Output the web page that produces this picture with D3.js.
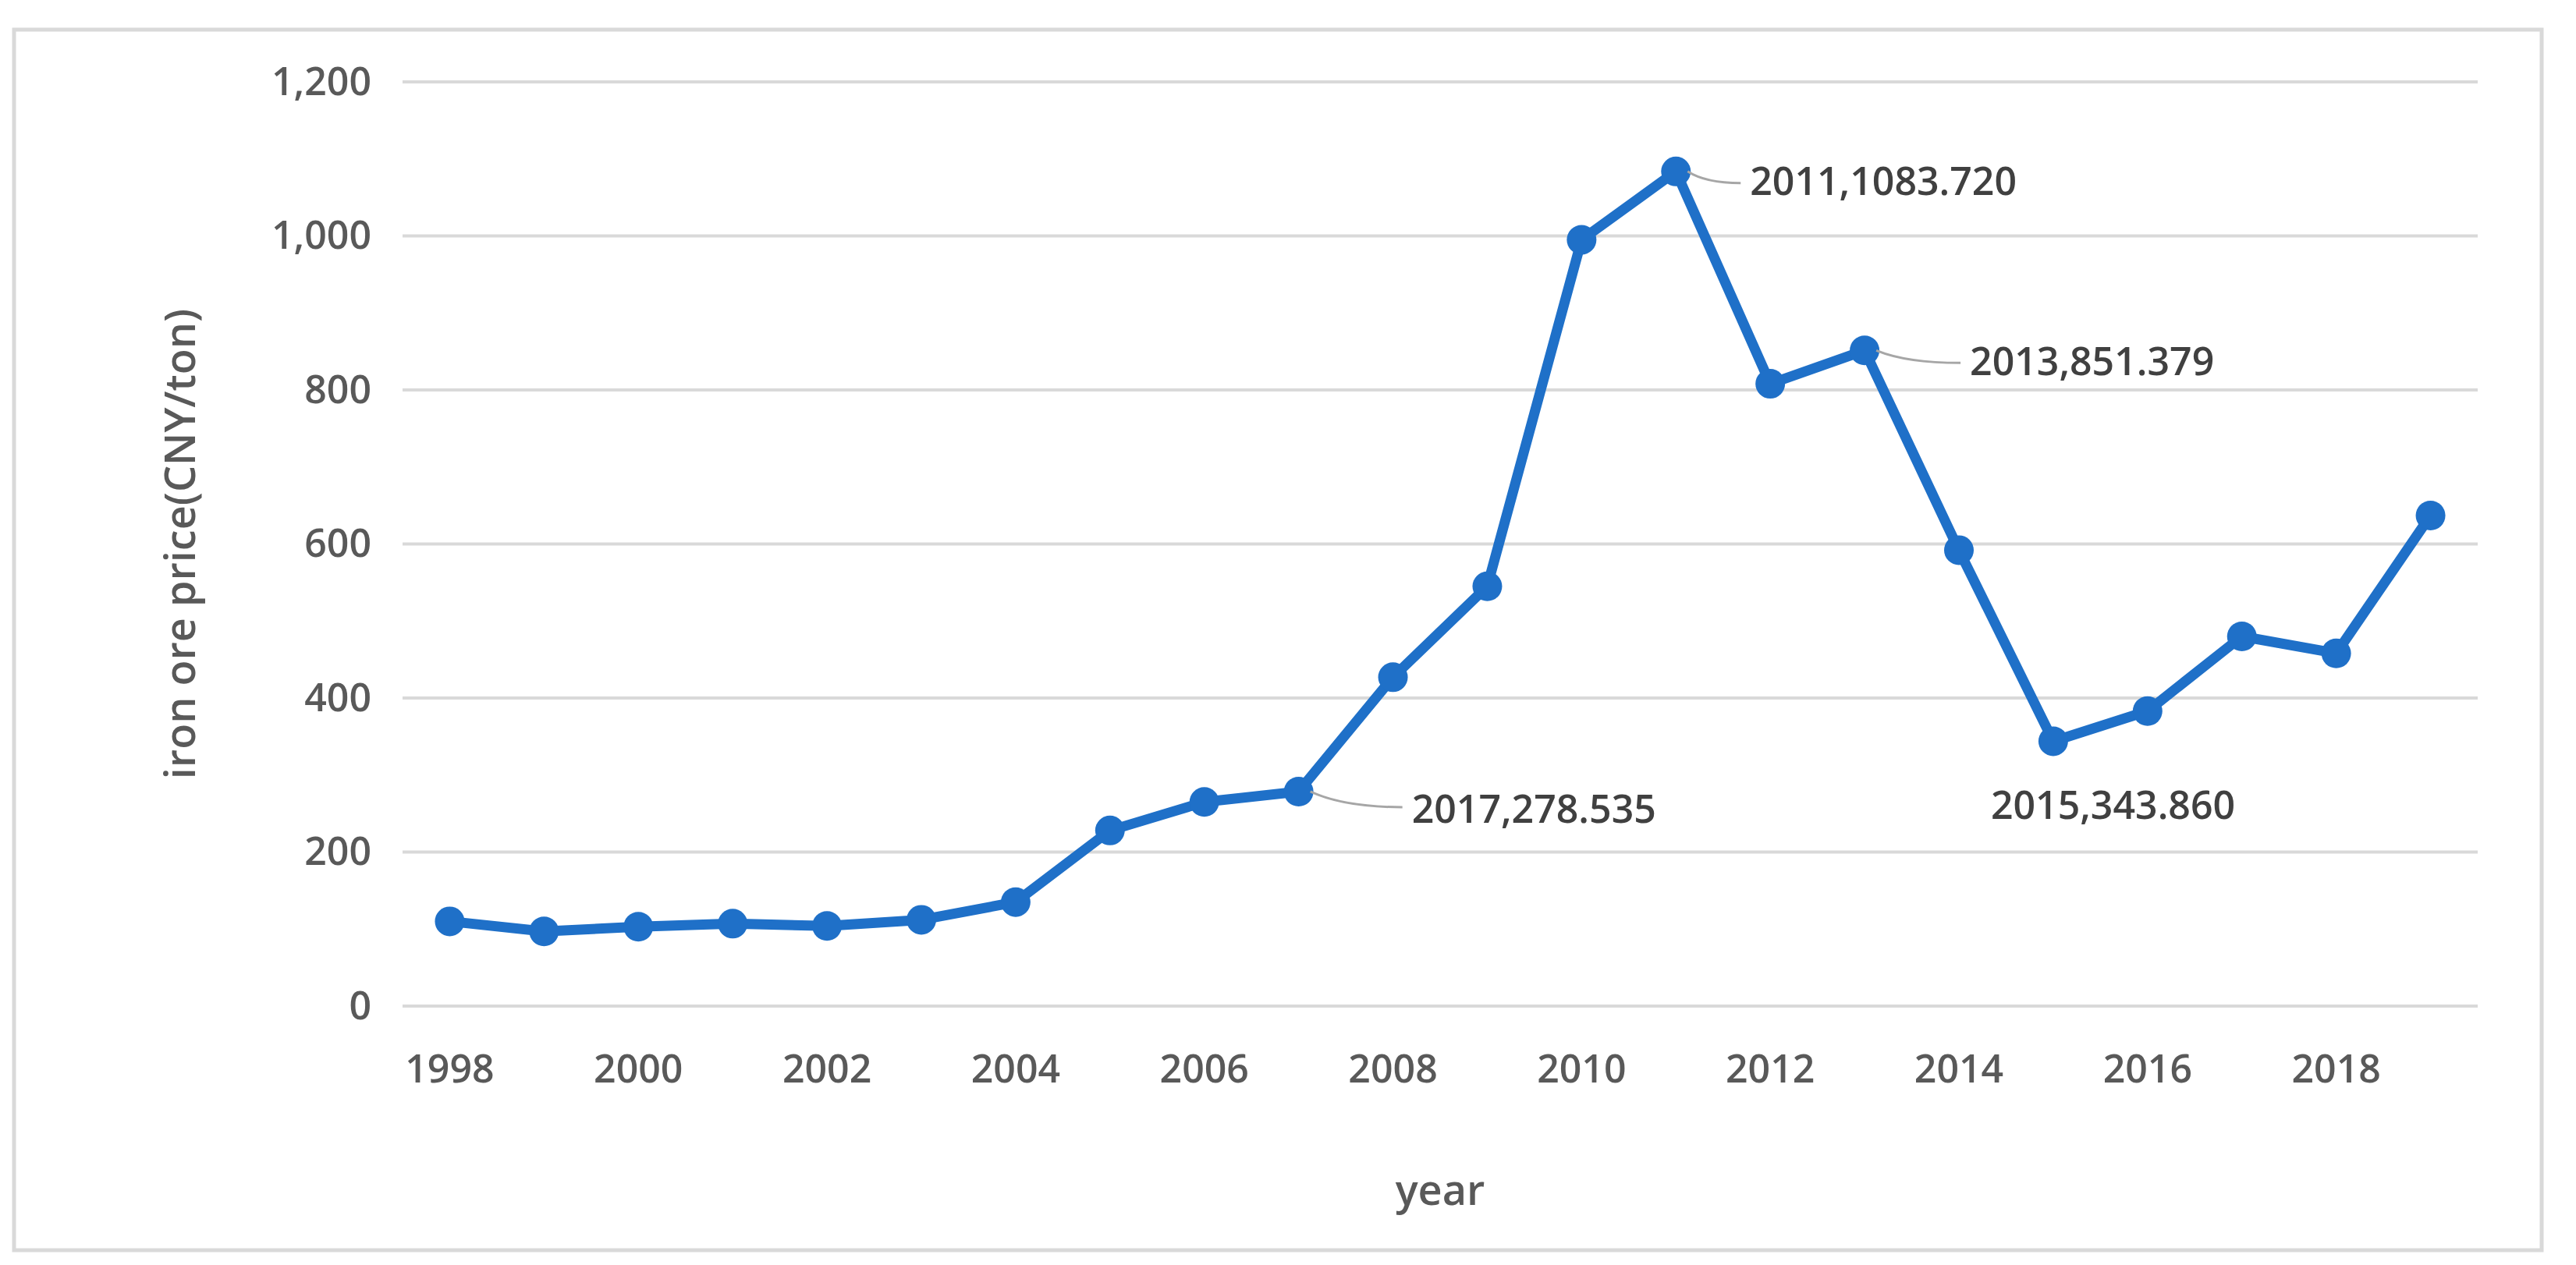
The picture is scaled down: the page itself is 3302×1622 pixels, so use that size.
<!DOCTYPE html>
<html>
<head>
<meta charset="utf-8">
<script src="https://cdn.jsdelivr.net/npm/d3@7"></script>
<style>
body{margin:0;background:#fff;}
text{font-family:"Open Sans","Noto Sans",sans-serif;}
</style>
</head>
<body>
<svg id="chart" width="3302" height="1622"></svg>
<script>
'use strict';
// data
var years=[1998,1999,2000,2001,2002,2003,2004,2005,2006,2007,2008,2009,2010,2011,2012,2013,2014,2015,2016,2017,2018,2019];
var prices=[110,97,103,107,104,112,135,228,265,278.535,427,545,995,1083.72,808,851.379,592,343.86,383,480,458,637];
var yTicks=[0,200,400,600,800,1000,1200];
var xTickYears=[1998,2000,2002,2004,2006,2008,2010,2012,2014,2016,2018];
var callouts=[
	{year:2011,text:"2011,1083.720",dx:95,dy:30,leader:true},
	{year:2013,text:"2013,851.379",dx:135,dy:32,leader:true},
	{year:2007,text:"2017,278.535",dx:145,dy:40,leader:true},
	{year:2015,text:"2015,343.860",dx:-80,dy:100,leader:false}
];

var svg=d3.select("#chart");
var plotLeft=516,plotRight=3176,plotTop=105,plotBottom=1290;

// outer frame
svg.append("rect").attr("x",18).attr("y",38).attr("width",3240).attr("height",1565)
	.attr("fill","#fff").attr("stroke","#d9d9d9").attr("stroke-width",5);

var x=d3.scaleBand().domain(years).range([plotLeft,plotRight]);
var y=d3.scaleLinear().domain([0,1200]).range([plotBottom,plotTop]);
var cx=function(d){return x(d)+x.bandwidth()/2;};

// gridlines
svg.append("g").selectAll("line").data(yTicks).join("line")
	.attr("x1",plotLeft).attr("x2",plotRight)
	.attr("y1",function(d){return y(d);}).attr("y2",function(d){return y(d);})
	.attr("stroke","#d9d9d9").attr("stroke-width",4);

// y axis
var yAxis=svg.append("g").attr("transform","translate("+(plotLeft-40)+",0)")
	.call(d3.axisLeft(y).tickValues(yTicks).tickSize(0).tickPadding(0));
yAxis.select(".domain").remove();
yAxis.selectAll("text").attr("font-size",50).attr("font-weight",600).attr("fill","#595959")
	.attr("font-family","'Open Sans',sans-serif");

// x axis
var xAxis=svg.append("g").attr("transform","translate(0,"+(plotBottom+60)+")")
	.call(d3.axisBottom(x).tickValues(xTickYears).tickSize(0).tickPadding(0));
xAxis.select(".domain").remove();
xAxis.selectAll("text").attr("font-size",50).attr("font-weight",600).attr("fill","#595959")
	.attr("font-family","'Open Sans',sans-serif").attr("dy","0.75em");

// axis titles
svg.append("text").attr("x",(plotLeft+plotRight)/2).attr("y",1545).attr("text-anchor","middle")
	.attr("font-size",54).attr("font-weight",600).attr("fill","#595959").text("year");
svg.append("text").attr("transform","translate(250,"+((plotTop+plotBottom)/2)+") rotate(-90)")
	.attr("text-anchor","middle").attr("font-size",54).attr("font-weight",600).attr("fill","#595959")
	.text("iron ore price(CNY/ton)");

// line
var line=d3.line().x(function(d,i){return cx(years[i]);}).y(function(d){return y(d);});
svg.append("path").datum(prices).attr("d",line).attr("fill","none")
	.attr("stroke","#1f70c8").attr("stroke-width",13).attr("stroke-linejoin","round");
svg.append("g").selectAll("circle").data(prices).join("circle")
	.attr("cx",function(d,i){return cx(years[i]);}).attr("cy",function(d){return y(d);})
	.attr("r",19).attr("fill","#1f70c8");

// callouts
callouts.forEach(function(c){
	var i=years.indexOf(c.year);
	var px=cx(c.year),py=y(prices[i]);
	if(c.leader){
		svg.append("path")
			.attr("d","M"+(px+15)+","+py+" Q"+(px+c.dx*0.4)+","+(py+c.dy*0.5)+" "+(px+c.dx-12)+","+(py+c.dy*0.5))
			.attr("fill","none").attr("stroke","#a6a6a6").attr("stroke-width",3);
	}
	svg.append("text").attr("x",px+c.dx).attr("y",py+c.dy)
		.attr("font-size",50).attr("font-weight",600).attr("fill","#404040").text(c.text);
});
</script>
</body>
</html>
